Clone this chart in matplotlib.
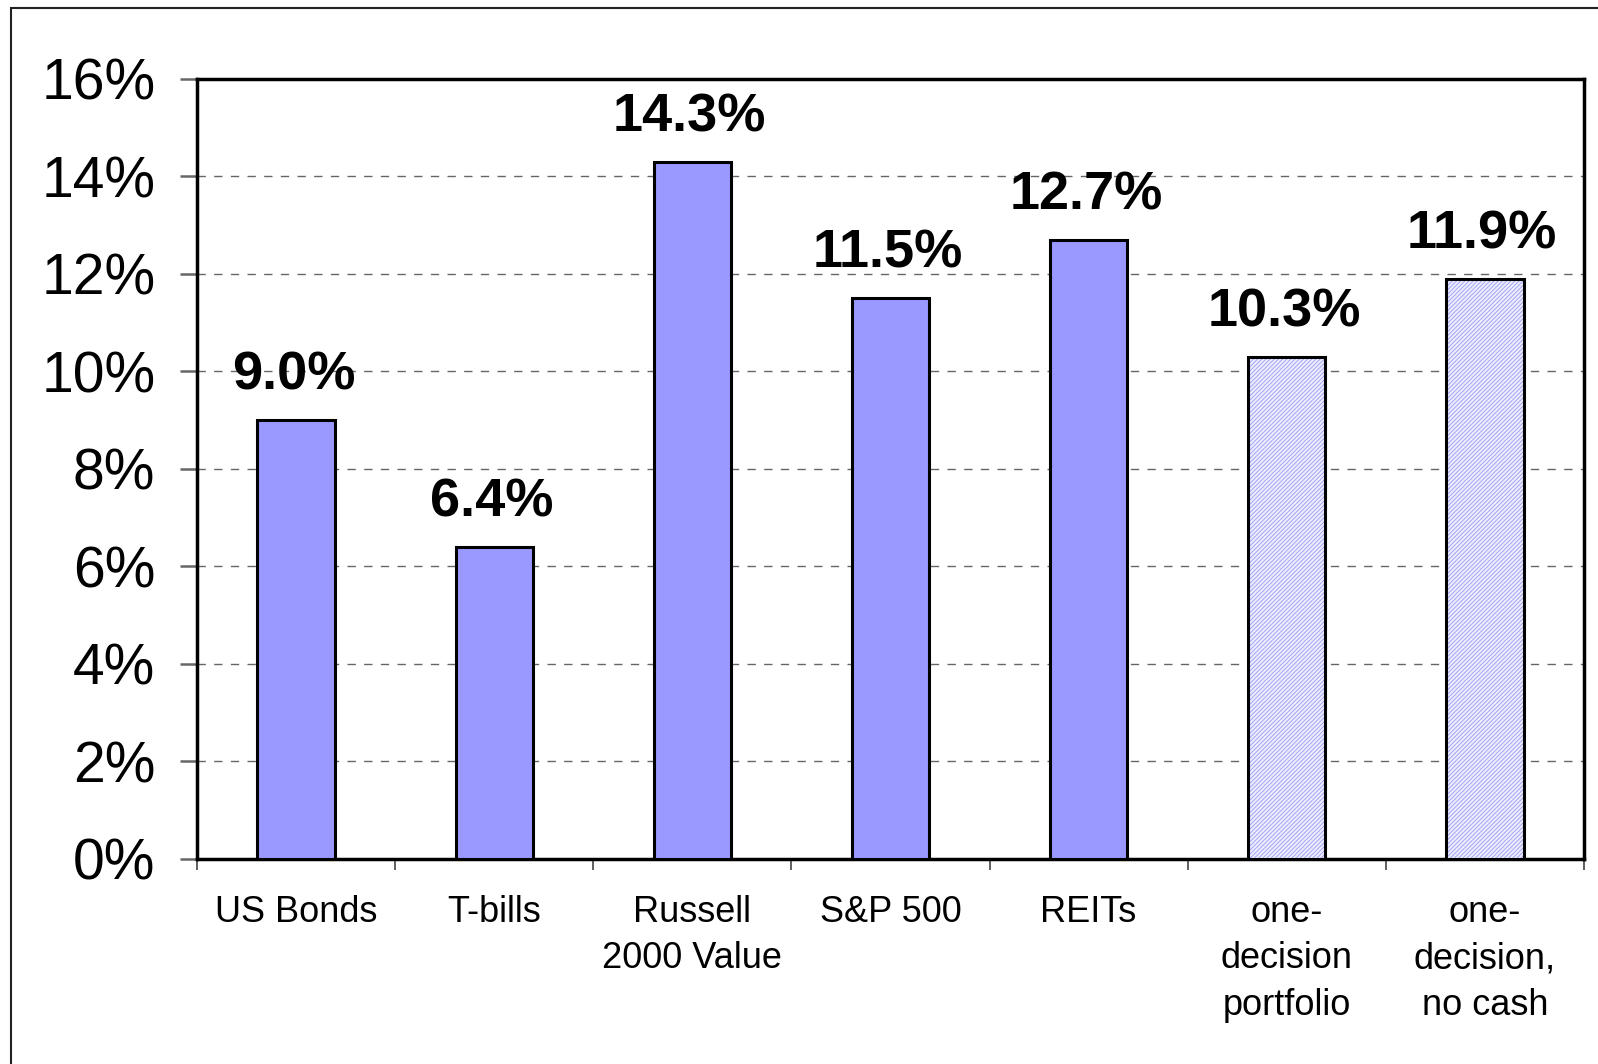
import matplotlib.pyplot as plt
from matplotlib.patches import Rectangle

plt.rcParams['font.family'] = ['Liberation Sans', 'DejaVu Sans']
plt.rcParams['hatch.linewidth'] = 0.6

# annualized returns by asset class, in percent
categories = ['US Bonds', 'T-bills', 'Russell\n2000 Value', 'S&P 500', 'REITs',
              'one-\ndecision\nportfolio', 'one-\ndecision,\nno cash']
returns = [9.0, 6.4, 14.3, 11.5, 12.7, 10.3, 11.9]
hatched = [False, False, False, False, False, True, True]
ytick_vals = [0, 2, 4, 6, 8, 10, 12, 14, 16]

fig = plt.figure(figsize=(15.98, 10.64), dpi=100)
ax = fig.add_axes([0.1233, 0.1927, 0.8679, 0.7331])

# outer border that runs off the right and bottom edges
fig.patches.append(Rectangle((10.5 / 1598, -0.1), 2, (1064 - 7.5) / 1064 + 0.1,
                             transform=fig.transFigure, fill=False,
                             edgecolor='#222222', linewidth=1.5))

x = list(range(len(categories)))
w = 0.39
for xi, v, h in zip(x, returns, hatched):
    if h:
        ax.bar(xi, v, width=w, color='#ECECFF', edgecolor='#9a9af5',
               hatch='////////', linewidth=0, zorder=3)
        ax.bar(xi, v, width=w, fill=False, edgecolor='black', linewidth=2.2, zorder=4)
    else:
        ax.bar(xi, v, width=w, color='#9999FF', edgecolor='black', linewidth=2.2, zorder=3)
    ax.annotate(f'{v:.1f}%', (xi, v), xytext=(-2, 22), textcoords='offset points',
                ha='center', va='baseline', fontsize=39, fontweight='bold')

ax.set_xlim(-0.5, len(categories) - 0.5)
ax.set_ylim(0, 16)
ax.set_yticks(ytick_vals)
ax.set_yticklabels([f'{t}%' for t in ytick_vals], fontsize=41)
ax.tick_params(axis='y', length=12, width=1.8, color='#666666', pad=18)

# x ticks sit on the category boundaries, labels in between
ax.set_xticks([i - 0.5 for i in range(len(categories) + 1)])
ax.set_xticklabels([])
ax.set_xticks(x, minor=True)
ax.set_xticklabels(categories, minor=True, fontsize=26, linespacing=1.42)
ax.tick_params(axis='x', which='major', length=8, width=1.2, color='#444444', direction='out')
ax.tick_params(axis='x', which='minor', length=0, pad=26)

for t in ytick_vals[1:-1]:
    ax.axhline(t, color='#666666', linewidth=1.0, linestyle=(0, (6, 6)), zorder=1)

for s in ax.spines.values():
    s.set_linewidth(2.5)
    s.set_color('black')

fig.savefig('out.png', dpi=100)
